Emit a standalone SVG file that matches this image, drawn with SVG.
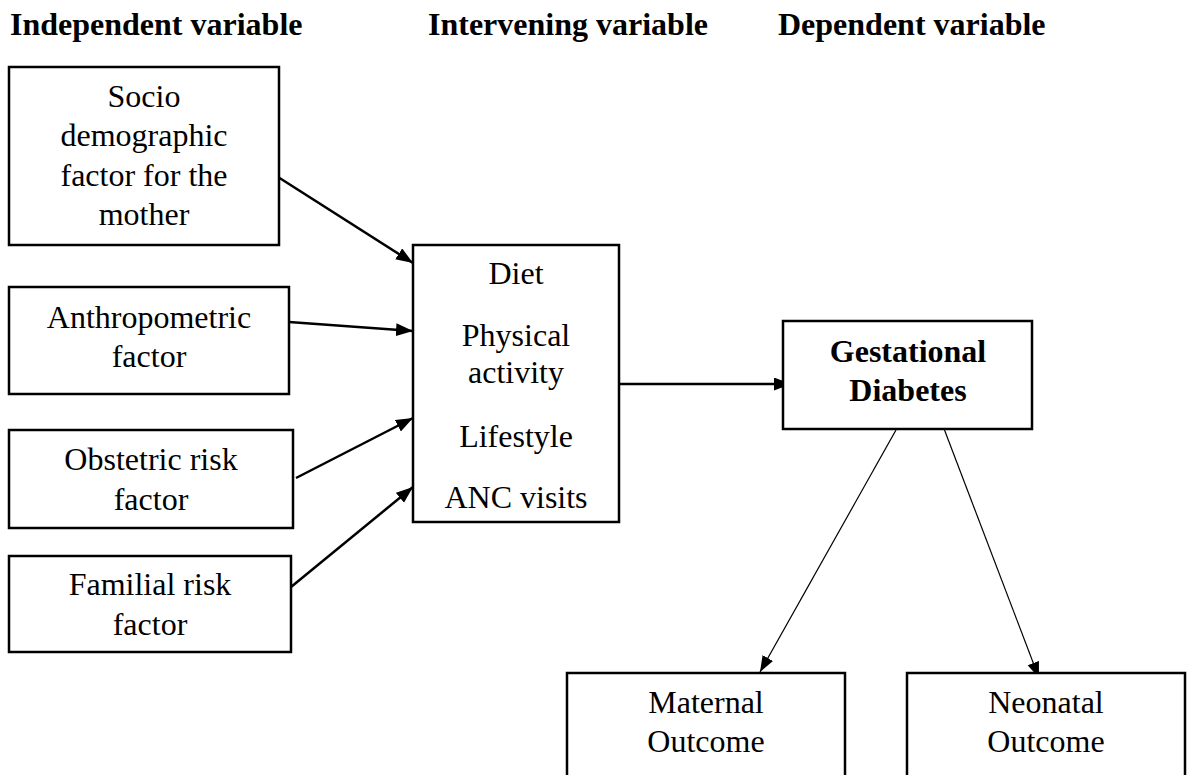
<svg xmlns="http://www.w3.org/2000/svg" width="1189" height="775" viewBox="0 0 1189 775">
  <style>
    .box { fill: #ffffff; stroke: #000000; stroke-width: 2.5; }
    .t { font-family: "Liberation Serif", "Times New Roman", serif; font-size: 32px; fill: #000000; text-anchor: middle; }
    .b { font-weight: bold; }
    .h { font-family: "Liberation Serif", "Times New Roman", serif; font-size: 32px; font-weight: bold; fill: #000000; }
    .c { stroke: #000000; stroke-width: 2.5; fill: none; marker-end: url(#ah); }
    .ct { stroke: #000000; stroke-width: 1.2; fill: none; marker-end: url(#ahs); }
  </style>
  <defs>
    <marker id="ah" markerUnits="userSpaceOnUse" markerWidth="18" markerHeight="14" refX="17" refY="6.5" orient="auto">
      <path d="M0,0 L17,6.5 L0,13 z" fill="#000000"/>
    </marker>
    <marker id="ahs" markerUnits="userSpaceOnUse" markerWidth="17" markerHeight="13" refX="16" refY="6" orient="auto">
      <path d="M0,0 L16,6 L0,12 z" fill="#000000"/>
    </marker>
  </defs>
  <rect x="0" y="0" width="1189" height="775" fill="#ffffff"/>

  <g id="headers">
    <text class="h" x="10" y="35">Independent variable</text>
    <text class="h" x="428" y="35">Intervening variable</text>
    <text class="h" x="778" y="35">Dependent variable</text>
  </g>

  <g id="connectors">
    <line class="c" x1="278" y1="177" x2="413" y2="263"/>
    <line class="c" x1="289" y1="322" x2="413" y2="331"/>
    <line class="c" x1="296" y1="478" x2="413" y2="418"/>
    <line class="c" x1="291" y1="587" x2="413" y2="487"/>
    <line class="c" x1="619" y1="384" x2="791" y2="384"/>
    <line class="ct" x1="896" y1="430" x2="760" y2="672"/>
    <line class="ct" x1="944.5" y1="430" x2="1039" y2="678"/>
  </g>

  <g id="socio">
    <rect class="box" x="9" y="67" width="270" height="178"/>
    <text class="t" x="144" y="107">Socio</text>
    <text class="t" x="144" y="146">demographic</text>
    <text class="t" x="144" y="186">factor for the</text>
    <text class="t" x="144" y="225">mother</text>
  </g>

  <g id="anthropometric">
    <rect class="box" x="9" y="287" width="280" height="107"/>
    <text class="t" x="149" y="328">Anthropometric</text>
    <text class="t" x="149" y="367">factor</text>
  </g>

  <g id="obstetric">
    <rect class="box" x="9" y="430" width="284" height="98"/>
    <text class="t" x="151" y="470">Obstetric risk</text>
    <text class="t" x="151" y="510">factor</text>
  </g>

  <g id="familial">
    <rect class="box" x="9" y="556" width="282" height="96"/>
    <text class="t" x="150" y="595">Familial risk</text>
    <text class="t" x="150" y="635">factor</text>
  </g>

  <g id="intervening">
    <rect class="box" x="413" y="245" width="206" height="277"/>
    <text class="t" x="516" y="284">Diet</text>
    <text class="t" x="516" y="346">Physical</text>
    <text class="t" x="516" y="383">activity</text>
    <text class="t" x="516" y="447">Lifestyle</text>
    <text class="t" x="516" y="508">ANC visits</text>
  </g>

  <g id="gestational">
    <rect class="box" x="783" y="321" width="249" height="108"/>
    <text class="t b" x="908" y="362">Gestational</text>
    <text class="t b" x="908" y="401">Diabetes</text>
  </g>

  <g id="maternal">
    <rect class="box" x="567" y="673" width="278" height="130"/>
    <text class="t" x="706" y="713">Maternal</text>
    <text class="t" x="706" y="752">Outcome</text>
  </g>

  <g id="neonatal">
    <rect class="box" x="907" y="673" width="278" height="130"/>
    <text class="t" x="1046" y="713">Neonatal</text>
    <text class="t" x="1046" y="752">Outcome</text>
  </g>
</svg>
